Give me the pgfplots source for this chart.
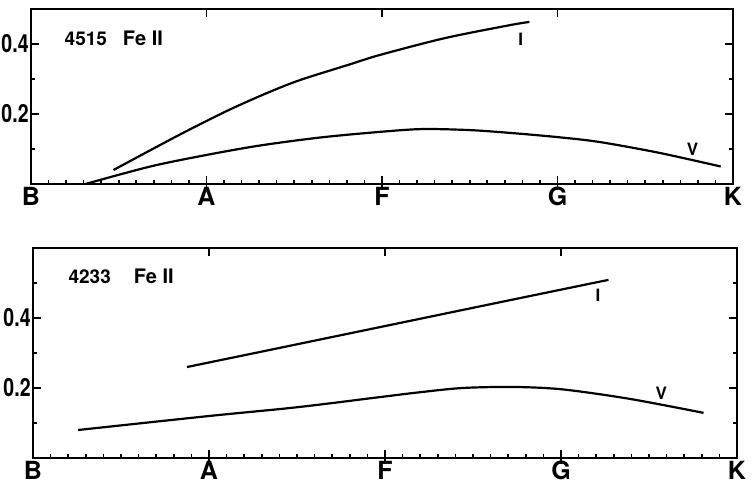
\documentclass[border=0pt]{standalone}
\usepackage{fontspec}
\setmainfont{TeX Gyre Heros}
\newfontfamily\condf[FakeStretch=0.78]{TeX Gyre Heros}
\usepackage{pgfplots}
\pgfplotsset{compat=1.18}
\pgfplotsset{panel/.style={
  scale only axis, anchor=south west,
  xmin=0, xmax=4, ymin=0,
  axis line style={line width=1pt},
  xtick={0,1,2,3,4}, xticklabels={B,A,F,G,K},
  minor x tick num=9,
  xtick pos=bottom, ytick pos=both,
  tick align=inside,
  major tick length=4pt, minor tick length=2.2pt,
  every tick/.style={black, line width=0.8pt},
  ytick={0.2,0.4}, yticklabels={0.2,0.4},
  xticklabel style={font=\fontsize{12.5}{14}\selectfont\bfseries, inner ysep=1.5pt},
  yticklabel style={font=\fontsize{12.5}{14}\selectfont\condf\bfseries, inner xsep=1pt},
  extra x ticks={1,2,3}, extra x tick labels={},
  extra tick style={tick align=center, major tick length=6pt, xtick pos=bottom},
},
curve/.style={line width=1.1pt, black, no marks, smooth},
overlay/.style={
  scale only axis, anchor=south west,
  xmin=0, xmax=4, ymin=0,
  axis line style={draw=none},
  xtick={1,2,3}, xticklabels={}, xtick pos=top,
  ytick=\empty, tick align=inside, major tick length=4pt,
  every tick/.style={black, line width=0.8pt},
}}
\begin{document}
\begin{tikzpicture}
\useasboundingbox (0,0) rectangle (376pt,242pt);
% top panel
\begin{axis}[panel, at={(15.5pt,150pt)}, width=351pt, height=87.5pt, ymax=0.5,
  minor ytick={0.1,0.3}]
\addplot[curve] coordinates {(0.47,0.040) (0.809,0.131) (1.0,0.180) (1.151,0.217) (1.345,0.260) (1.533,0.297) (1.818,0.342) (1.99,0.369) (2.36,0.417) (2.73,0.454) (2.84,0.463)};
\addplot[curve] coordinates {(0.31,0.0) (0.68,0.05) (1.0,0.083) (1.305,0.11) (1.65,0.133) (1.99,0.149) (2.23,0.157) (2.5,0.154) (2.73,0.146) (3.0,0.134) (3.24,0.12) (3.58,0.089) (3.93,0.05)};
\node[anchor=west, inner sep=0pt] at (axis cs:0.19,0.415) {\bfseries\fontsize{9.5}{11}\selectfont 4515\hspace{8pt}\fontsize{10}{11}\selectfont Fe II};
\node[inner sep=0pt] at (axis cs:2.79,0.414) {\fontsize{8.5}{9}\selectfont\bfseries I};
\node[inner sep=0pt] at (axis cs:3.77,0.10) {\fontsize{8.5}{9}\selectfont\bfseries V};
\end{axis}
\begin{axis}[overlay, at={(15.5pt,150pt)}, width=351pt, height=87.5pt, ymax=0.5]
\end{axis}
% bottom panel
\begin{axis}[panel, at={(16.5pt,13pt)}, width=352pt, height=105pt, ymax=0.6,
  minor ytick={0.1,0.3,0.5}]
\addplot[curve] coordinates {(0.875,0.26) (1.29,0.303) (2.0,0.377) (2.71,0.451) (3.27,0.509)};
\addplot[curve] coordinates {(0.256,0.08) (1.0,0.12) (1.5,0.145) (1.97,0.174) (2.2,0.188) (2.44,0.200) (2.73,0.203) (3.01,0.196) (3.39,0.169) (3.81,0.129)};
\node[anchor=west, inner sep=0pt] at (axis cs:0.2,0.52) {\bfseries\fontsize{9.5}{11}\selectfont 4233\hspace{11.5pt}\fontsize{10}{11}\selectfont Fe II};
\node[inner sep=0pt] at (axis cs:3.21,0.466) {\fontsize{8.5}{9}\selectfont\bfseries I};
\node[inner sep=0pt] at (axis cs:3.57,0.186) {\fontsize{8.5}{9}\selectfont\bfseries V};
\end{axis}
\begin{axis}[overlay, at={(16.5pt,13pt)}, width=352pt, height=105pt, ymax=0.6]
\end{axis}
\end{tikzpicture}
\end{document}
